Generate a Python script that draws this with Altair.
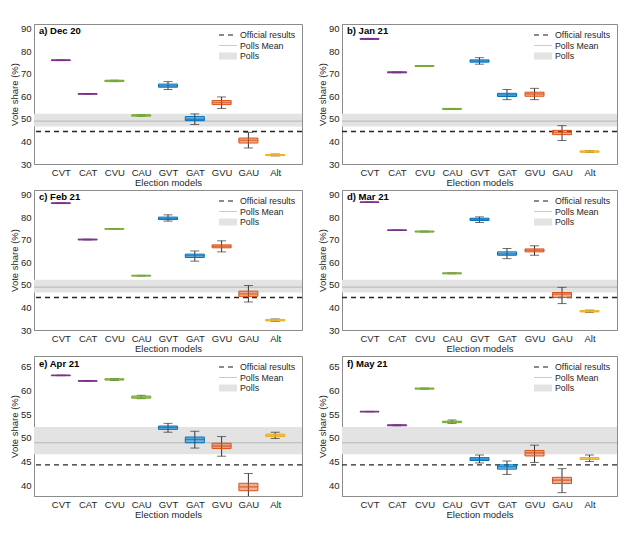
import altair as alt
import pandas as pd

models = ["CVT", "CAT", "CVU", "CAU", "GVT", "GAT", "GVU", "GAU", "Alt"]
model_colors = ["#7E2F8E", "#7E2F8E", "#77AC30", "#77AC30", "#0072BD",
                "#0072BD", "#D95319", "#D95319", "#EDB120"]

panel_titles = ["a) Dec 20", "b) Jan 21", "c) Feb 21", "d) Mar 21", "e) Apr 21", "f) May 21"]

# Box statistics per panel: whisker low, Q1, median, Q3, whisker high
a_low = [75.8, 60.9, 66.5, 51.2, 63.0, 47.5, 54.6, 37.1, 33.6]
a_q1 = [75.8, 60.9, 66.5, 51.2, 64.0, 49.2, 56.3, 39.3, 33.7]
a_med = [76.0, 61.1, 66.8, 51.5, 64.6, 49.8, 57.2, 40.5, 34.0]
a_q3 = [76.1, 61.2, 67.1, 51.8, 65.4, 51.0, 58.1, 41.5, 34.2]
a_high = [76.1, 61.2, 67.1, 51.8, 66.5, 52.2, 59.7, 44.0, 34.4]

b_low = [85.2, 70.4, 73.2, 54.2, 74.2, 58.5, 58.5, 40.4, 35.1]
b_q1 = [85.2, 70.4, 73.2, 54.2, 75.1, 59.9, 60.0, 43.0, 35.2]
b_med = [85.4, 70.6, 73.4, 54.4, 75.6, 60.6, 61.0, 44.0, 35.5]
b_q3 = [85.6, 70.8, 73.6, 54.6, 76.1, 61.3, 61.8, 44.9, 35.8]
b_high = [85.6, 70.8, 73.6, 54.6, 77.1, 63.0, 63.5, 47.0, 35.9]

c_low = [86.0, 69.9, 74.6, 53.9, 78.2, 60.5, 64.6, 42.4, 33.8]
c_q1 = [86.0, 69.9, 74.6, 53.9, 78.9, 62.1, 66.4, 44.9, 34.0]
c_med = [86.2, 70.1, 74.8, 54.1, 79.4, 62.9, 67.1, 46.0, 34.3]
c_q3 = [86.3, 70.2, 74.9, 54.2, 80.0, 63.6, 67.7, 47.2, 34.7]
c_high = [86.3, 70.2, 74.9, 54.2, 81.0, 65.0, 69.5, 49.7, 34.9]

d_low = [86.5, 74.1, 73.4, 54.9, 77.6, 61.6, 63.1, 41.7, 37.8]
d_q1 = [86.5, 74.1, 73.4, 54.9, 78.5, 63.1, 64.6, 44.4, 38.0]
d_med = [86.6, 74.2, 73.6, 55.1, 79.0, 63.7, 65.3, 45.9, 38.3]
d_q3 = [86.7, 74.3, 73.8, 55.3, 79.5, 64.6, 65.9, 46.6, 38.6]
d_high = [86.7, 74.3, 73.8, 55.3, 80.1, 66.1, 67.3, 48.9, 38.8]

e_low = [63.0, 61.85, 62.0, 58.2, 51.2, 47.9, 46.2, 37.0, 49.9]
e_q1 = [63.0, 61.85, 62.1, 58.3, 51.8, 49.0, 47.8, 39.0, 50.3]
e_med = [63.06, 61.9, 62.2, 58.5, 52.2, 49.7, 48.3, 39.8, 50.6]
e_q3 = [63.1, 61.95, 62.35, 58.75, 52.5, 50.2, 48.9, 40.55, 50.8]
e_high = [63.1, 61.95, 62.4, 58.9, 53.05, 51.4, 50.3, 42.6, 51.2]

f_low = [55.45, 52.55, 60.2, 53.05, 44.8, 42.4, 44.9, 38.6, 45.1]
f_q1 = [55.45, 52.55, 60.2, 53.2, 45.3, 43.5, 46.25, 40.5, 45.5]
f_med = [55.5, 52.65, 60.3, 53.4, 45.6, 44.0, 46.9, 41.2, 45.8]
f_q3 = [55.55, 52.75, 60.4, 53.5, 45.9, 44.4, 47.4, 41.8, 45.9]
f_high = [55.55, 52.75, 60.4, 53.75, 46.45, 45.2, 48.5, 43.6, 46.45]

official_result = 44.4
polls_mean = 49.0
polls_low = 46.6
polls_high = 52.3

line_labels = ["Official results", "Polls Mean"]
line_colors = ["#262626", "#b4b4b4"]
line_dashes = [[5, 4], [1, 0]]
line_widths = [1.4, 1.0]
band_label = "Polls"
band_color = "#e3e3e3"

ydom_top = [30, 92]
yticks_top = [30, 40, 50, 60, 70, 80, 90]
ydom_bottom = [37.9, 67.1]
yticks_bottom = [40, 45, 50, 55, 60, 65]

FONT = "Liberation Sans"
TXT = "#262626"
FRAME = "#8c8c8c"


def panel(title, low, q1, med, q3, high, ydom, yticks, width):
    df = pd.DataFrame({"model": models, "color": model_colors, "low": low,
                       "q1": q1, "med": med, "q3": q3, "high": high})
    band_df = pd.DataFrame({"label": [band_label], "lo": [polls_low], "hi": [polls_high]})
    ref_df = pd.DataFrame({"label": line_labels, "value": [official_result, polls_mean]})

    yscale = alt.Scale(domain=ydom, nice=False, zero=False)
    yaxis = alt.Axis(title="Vote share (%)", values=yticks, grid=False, labelOverlap=False,
                     ticks=False, labelPadding=3, titlePadding=1)

    def Y(field):
        return alt.Y(field, scale=yscale, axis=yaxis)

    x = alt.X("model:N", sort=models, scale=alt.Scale(type="point", padding=1),
              axis=alt.Axis(title="Election models", labelAngle=0, grid=False))

    common = dict(title=None, orient="none", legendX=width - 82, symbolSize=100,
                  labelFontSize=8.8, rowPadding=0, labelOffset=6, labelFont=FONT,
                  labelColor=TXT, padding=2)
    line_leg = alt.Legend(legendY=3, symbolType="M-1.8,0H1.8", **common)
    band_leg = alt.Legend(legendY=24, symbolType="M-1.8,-0.7H1.8V0.7H-1.8Z", **common)

    band = alt.Chart(band_df).mark_rect(strokeWidth=0).encode(
        y=Y("lo:Q"), y2="hi:Q",
        fill=alt.Fill("label:N", scale=alt.Scale(domain=[band_label], range=[band_color]), legend=band_leg))
    refs = alt.Chart(ref_df).mark_rule().encode(
        y=Y("value:Q"),
        color=alt.Color("label:N", scale=alt.Scale(domain=line_labels, range=line_colors), legend=line_leg),
        strokeDash=alt.StrokeDash("label:N", scale=alt.Scale(domain=line_labels, range=line_dashes), legend=line_leg),
        strokeWidth=alt.StrokeWidth("label:N", scale=alt.Scale(domain=line_labels, range=line_widths), legend=None),
    )
    base = alt.Chart(df)
    whisk = base.mark_rule(color="#333333", strokeWidth=1, clip=True).encode(
        x=x, y=Y("low:Q"), y2="high:Q")
    box = base.mark_bar(size=19, strokeWidth=1, fillOpacity=0.45, clip=True).encode(
        x=x, y=Y("q1:Q"), y2="q3:Q",
        fill=alt.Fill("color:N", scale=None), stroke=alt.Stroke("color:N", scale=None))
    medl = base.mark_tick(size=19, thickness=1.5, orient="horizontal", clip=True).encode(
        x=x, y=Y("med:Q"), color=alt.Color("color:N", scale=None))
    cap_lo = base.mark_tick(size=9, thickness=1, color="#333333", orient="horizontal", clip=True).encode(
        x=x, y=Y("low:Q"))
    cap_hi = base.mark_tick(size=9, thickness=1, color="#333333", orient="horizontal", clip=True).encode(
        x=x, y=Y("high:Q"))

    return alt.layer(band, refs, whisk, cap_lo, cap_hi, box, medl).resolve_scale(
        fill="independent"
    ).properties(
        width=width, height=140,
        title=alt.TitleParams(title, anchor="start", frame="group", offset=-12, dx=5, fontSize=9.5,
                              fontWeight="bold", font=FONT, color="#000000"),
    )


W1, W2 = 268, 275
pa = panel(panel_titles[0], a_low, a_q1, a_med, a_q3, a_high, ydom_top, yticks_top, W1)
pb = panel(panel_titles[1], b_low, b_q1, b_med, b_q3, b_high, ydom_top, yticks_top, W2)
pc = panel(panel_titles[2], c_low, c_q1, c_med, c_q3, c_high, ydom_top, yticks_top, W1)
pd_ = panel(panel_titles[3], d_low, d_q1, d_med, d_q3, d_high, ydom_top, yticks_top, W2)
pe = panel(panel_titles[4], e_low, e_q1, e_med, e_q3, e_high, ydom_bottom, yticks_bottom, W1)
pf = panel(panel_titles[5], f_low, f_q1, f_med, f_q3, f_high, ydom_bottom, yticks_bottom, W2)

res = dict(color="independent", strokeDash="independent", strokeWidth="independent", fill="independent")


def row(l, r):
    return alt.hconcat(l, r, spacing=12).resolve_scale(**res).resolve_legend(**res)


chart = alt.vconcat(row(pa, pb), row(pc, pd_), row(pe, pf), spacing=1).resolve_scale(**res).resolve_legend(**res)

chart = chart.configure(font=FONT, padding={"top": 15, "left": 0, "right": 0, "bottom": 0}).configure_view(
    stroke=FRAME, strokeWidth=1
).configure_axis(
    labelFont=FONT, titleFont=FONT, labelColor=TXT, titleColor=TXT, labelFontSize=9.5,
    titleFontSize=9.5, titleFontWeight="normal", domainColor=FRAME, tickColor=FRAME,
    tickSize=0, labelPadding=3, titlePadding=1
)

chart.save("out.html", embed_options={"renderer": "svg", "actions": False})
